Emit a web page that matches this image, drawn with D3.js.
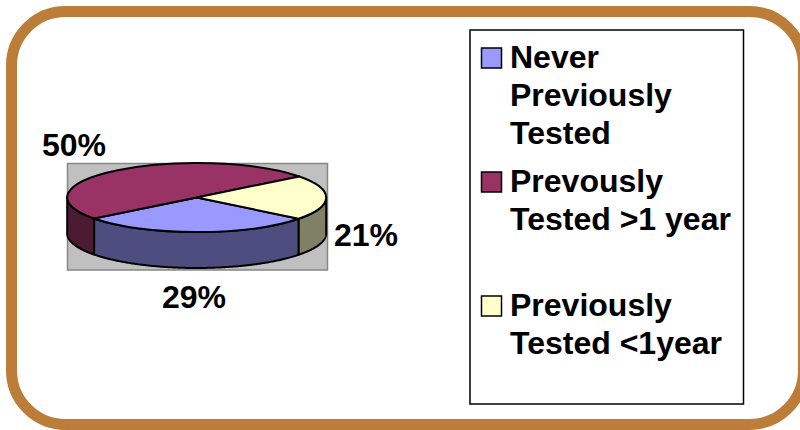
<!DOCTYPE html>
<html>
<head>
<meta charset="utf-8">
<script src="https://cdn.jsdelivr.net/npm/d3@7"></script>
<style>
  html, body { margin: 0; padding: 0; background: #fff; }
  svg { display: block; }
  text { font-family: "Liberation Sans", Arial, sans-serif; font-weight: bold; fill: #000; }
</style>
</head>
<body>
<script>
// Data
const categories = ["Never Previously Tested", "Prevously Tested >1 year", "Previously Tested <1year"];
const legendLines = [["Never", "Previously", "Tested"], ["Prevously", "Tested >1 year"], ["Previously", "Tested <1year"]];
const values = [29, 50, 21];
const valueLabels = ["29%", "50%", "21%"];
const topColors = ["#9999ff", "#993366", "#ffffcc"];
const sideColors = ["#4d4d80", "#4d1a33", "#808066"];

const width = 800, height = 430;
const fontSize = 32;

// Pie geometry
const cx = 196.7, cy = 197.5, rx = 129.5, ry = 34.5, depth = 36;
const firstAngle = 128 * Math.PI / 180;

const svg = d3.select("body").append("svg")
  .attr("width", width)
  .attr("height", height);

// Rounded frame, runs off the right side of the picture
svg.append("rect")
  .attr("x", 11.5).attr("y", 11.5)
  .attr("width", 792).attr("height", 413)
  .attr("rx", 54).attr("ry", 54)
  .attr("fill", "#fff")
  .attr("stroke", "#bb7d38")
  .attr("stroke-width", 11);

// Grey plot area behind the pie
svg.append("rect")
  .attr("x", 67.5).attr("y", 163.5)
  .attr("width", 260).attr("height", 106.5)
  .attr("fill", "#c0c0c0")
  .attr("stroke", "#868686")
  .attr("stroke-width", 1.5);

const pie = d3.pie().sort(null)
  .startAngle(firstAngle)
  .endAngle(firstAngle + 2 * Math.PI);
const slices = pie(values);

// Point on the top ellipse, angle clockwise from 12 o'clock
const px = (a) => cx + rx * Math.sin(a);
const py = (a) => cy - ry * Math.cos(a);

// Only the front half of the rim is visible
const frontFrom = Math.PI / 2, frontTo = 3 * Math.PI / 2;
const rim = d3.area()
  .x((a) => px(a))
  .y0((a) => py(a))
  .y1((a) => py(a) + depth);

const sides = svg.append("g");
slices.forEach((s, i) => {
  [0, 2 * Math.PI].forEach((turn) => {
    const a0 = Math.max(s.startAngle - turn, frontFrom);
    const a1 = Math.min(s.endAngle - turn, frontTo);
    if (a1 <= a0) return;
    sides.append("path")
      .attr("d", rim(d3.range(a0, a1, 0.01).concat([a1])))
      .attr("fill", sideColors[i])
      .attr("stroke", "#000")
      .attr("stroke-width", 2)
      .attr("stroke-linejoin", "round");
  });
});

// Top face, a circular pie squashed into an ellipse
const arc = d3.arc().innerRadius(0).outerRadius(rx);
svg.append("g")
  .attr("transform", `translate(${cx},${cy}) scale(1,${ry / rx})`)
  .selectAll("path")
  .data(slices)
  .enter()
  .append("path")
  .attr("d", arc)
  .attr("fill", (d, i) => topColors[i])
  .attr("stroke", "#000")
  .attr("stroke-width", 2)
  .attr("stroke-linejoin", "round")
  .attr("vector-effect", "non-scaling-stroke")
  .append("title").text((d, i) => categories[i]);

// Percent labels
const labelX = [162, 42, 334];
const labelY = [308, 156, 246];
svg.selectAll("text.value")
  .data(valueLabels)
  .enter()
  .append("text")
  .attr("class", "value")
  .attr("x", (d, i) => labelX[i])
  .attr("y", (d, i) => labelY[i])
  .attr("font-size", fontSize)
  .text((d) => d);

// Legend
svg.append("rect")
  .attr("x", 470).attr("y", 30)
  .attr("width", 273.5).attr("height", 374)
  .attr("fill", "#fff")
  .attr("stroke", "#000")
  .attr("stroke-width", 1.5);

const legendFirstLine = [68, 192, 316];
const legendItem = svg.selectAll("g.legend")
  .data(legendLines)
  .enter()
  .append("g")
  .attr("class", "legend")
  .attr("transform", (d, i) => `translate(0,${legendFirstLine[i]})`);

legendItem.append("rect")
  .attr("x", 481.5).attr("y", -20)
  .attr("width", 20).attr("height", 20)
  .attr("fill", (d, i) => topColors[i])
  .attr("stroke", "#000")
  .attr("stroke-width", 1.5);

legendItem.selectAll("text")
  .data((d) => d)
  .enter()
  .append("text")
  .attr("x", 510)
  .attr("y", (d, i) => i * 37.8)
  .attr("font-size", fontSize)
  .text((d) => d);
</script>
</body>
</html>
